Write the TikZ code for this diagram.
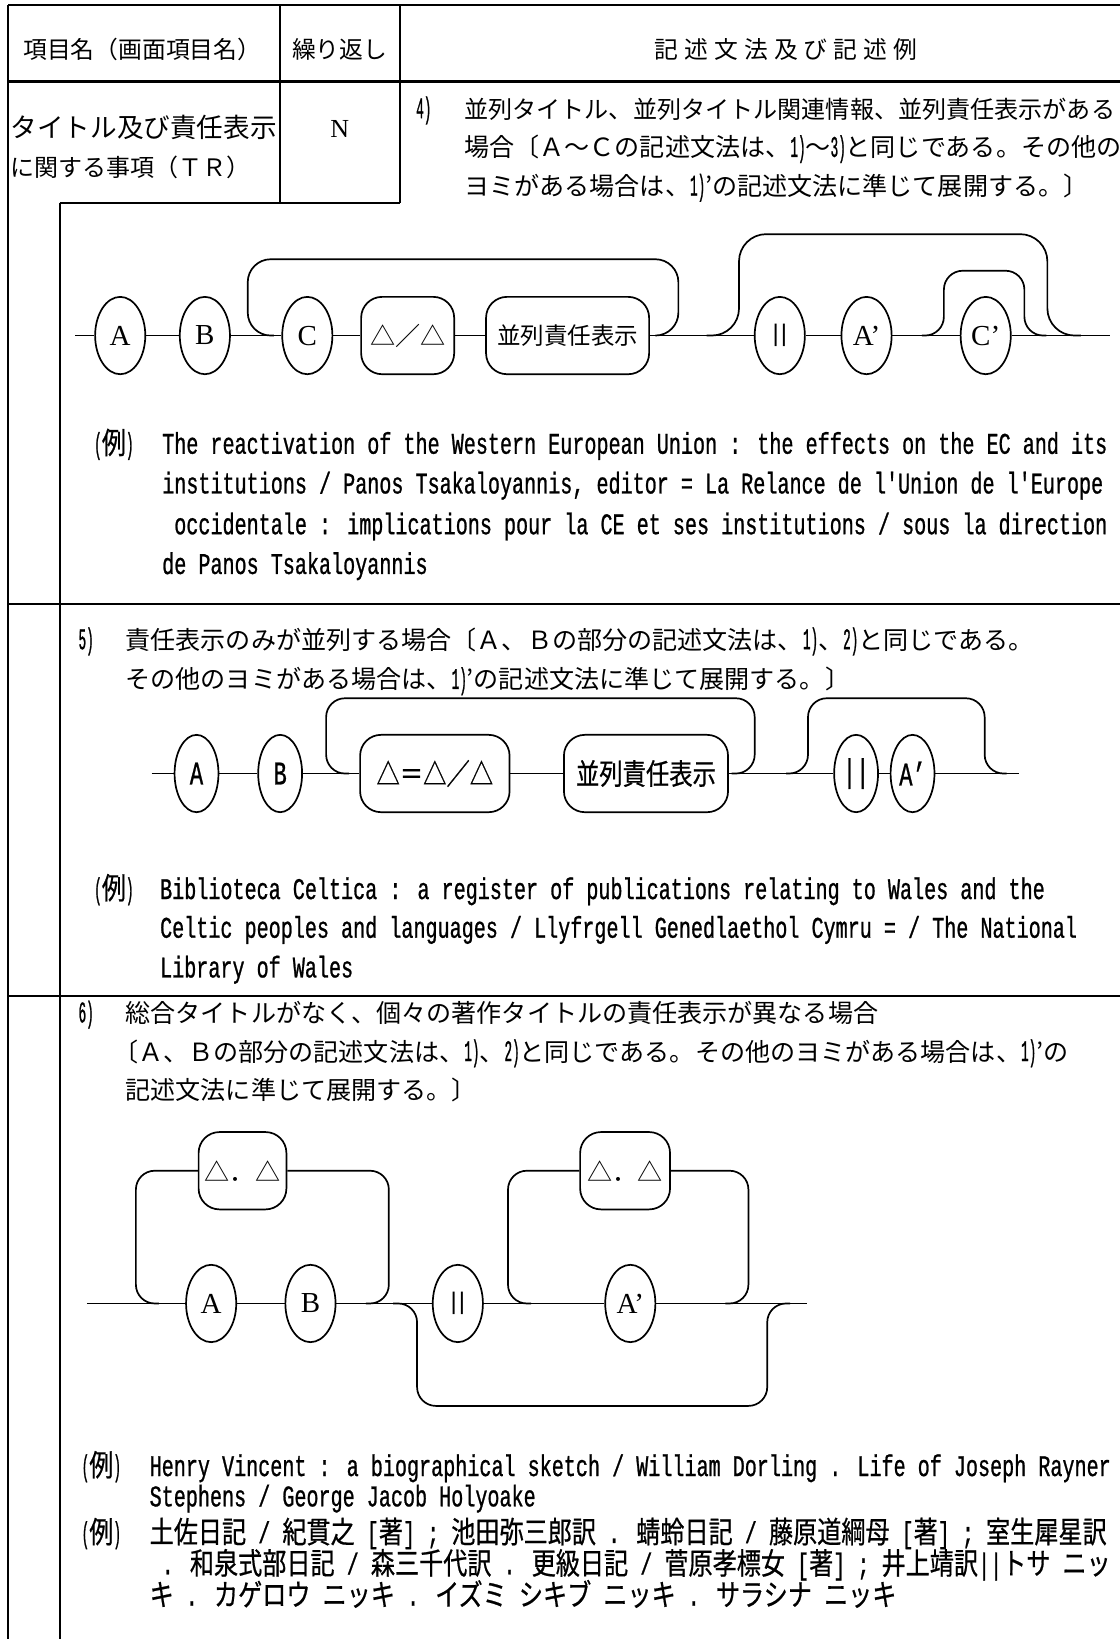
\documentclass[tikz,border=0pt]{standalone}
\usepackage{fontspec}
\setmainfont{Liberation Serif}
\setsansfont{Liberation Sans}
\newfontfamily\jp{Noto Sans CJK JP}
\newfontfamily\jpc[FakeStretch=0.804,FakeBold=0.6]{Noto Sans CJK JP}
\newfontfamily\exf[FakeStretch=0.67,FakeBold=0.8]{Liberation Mono}
\newfontfamily\exn[FakeStretch=0.42,FakeBold=0.8]{Liberation Mono}
\usetikzlibrary{shapes.geometric}
\def\U{1.045pt}
\newcommand\fb{\jp\fontsize{25.08pt}{30pt}\selectfont}
\newcommand\fh{\jp\fontsize{23.8pt}{28pt}\selectfont}
\newcommand\fx{\exf\fontsize{30pt}{34pt}\selectfont}
\newcommand\nm[1]{{\exn\fontsize{30pt}{32pt}\selectfont #1}}
\newcommand\jx[1]{{\jpc #1}}
\newcommand\rei{{\exn(}\jx{例}{\exn)}}
\newcommand\ks{\kern6pt}
\newcommand\fser{\fontsize{29pt}{32pt}\selectfont}
\newcommand\fbar{\sffamily\fontsize{24pt}{28pt}\selectfont |\kern2pt|}
\newcommand\fcd{\exf\fontsize{33pt}{36pt}\selectfont}
\tikzset{
  tbl/.style={line width=2pt},
  ln/.style={line width=1.7pt},
  oval/.style={draw, ellipse, line width=1.7pt, fill=white, inner sep=0pt, minimum width=48*\U, minimum height=74*\U},
  ovaln/.style={oval, minimum width=42*\U},
  rbox/.style={draw, rectangle, rounded corners=20*\U, line width=1.7pt, fill=white, inner sep=0pt, minimum height=74*\U},
  txt/.style={anchor=west, inner sep=0pt, text height=19pt, text depth=0pt},
  ctxt/.style={inner sep=0pt, text height=19pt, text depth=0pt},
  loopr/.style={ln, rounded corners=22*\U},
}
\begin{document}
\begin{tikzpicture}[x=1.045pt, y=-1.045pt]
\fill[white] (0,0) rectangle (1071,1568);
\useasboundingbox (0,0) rectangle (1071,1568);
% ---------- table frame ----------
\draw[tbl] (8,5) -- (1071,5);
\draw[tbl] (8,5) -- (8,1568);
\draw[line width=2.6pt] (8,78) -- (1071,78);
\draw[tbl] (268,5) -- (268,194);
\draw[tbl] (383,5) -- (383,194);
\draw[tbl] (57,194) -- (383,194);
\draw[tbl] (57,194) -- (57,1568);
\draw[tbl] (8,578) -- (1071,578);
\draw[tbl] (8,953) -- (1071,953);
% ---------- header ----------
\node[txt] (h1) at (22,47) {\fh 項目名（画面項目名）};
\node[ctxt] (h2) at (325,47) {\fh 繰り返し};
\node[ctxt] (h3) at (752,47) {\fh 記\ks 述\ks 文\ks 法\ks 及\ks び\ks 記\ks 述\ks 例};
% ---------- row 2 ----------
\node[txt] (c1a) at (10,122) {\jp\fontsize{26.6pt}{30pt}\selectfont タイトル及び責任表示};
\node[txt] (c1b) at (10,160) {\jp\fontsize{24pt}{28pt}\selectfont に関する事項（ＴＲ）};
\node[ctxt] (rep) at (325,122) {\fontsize{26pt}{30pt}\selectfont N};
% ---------- section 4 ----------
\node[txt] (s4n) at (398,104) {\nm{4)}};
\node[txt] (s4a) at (444,104) {\jp\fontsize{24.1pt}{30pt}\selectfont 並列タイトル、並列タイトル関連情報、並列責任表示がある};
\node[txt] (s4b) at (444,141) {\fb 場合〔Ａ～Ｃの記述文法は、\nm{1)}～\nm{3)}と同じである。その他の};
\node[txt] (s4c) at (444,178) {\fb ヨミがある場合は、\nm{1)}’の記述文法に準じて展開する。〕};
% diagram 1
\coordinate (d1s) at (72,321);
\node[oval] (d1A) at (115,321) {\fser A};
\node[oval] (d1B) at (196,321) {\fser B};
\node[oval] (d1C) at (294,321) {\fser C};
\node[rbox, minimum width=89*\U] (d1D) at (390,321) {\fb △／△};
\node[rbox, minimum width=156*\U] (d1P) at (543,321) {\jp\fontsize{23.5pt}{26pt}\selectfont 並列責任表示};
\node[oval] (d1K) at (746,321) {\fbar};
\node[oval] (d1Ap) at (829,321) {\fser A’};
\node[oval] (d1Cp) at (943,321) {\fser C’};
\coordinate (d1e) at (1062,321);
\draw[ln] (d1s) -- (d1A) -- (d1B) -- (d1C) -- (d1D) -- (d1P) -- (d1K) -- (d1Ap) -- (d1Cp) -- (d1e);
\draw[loopr] (262,321) -- (237,321) -- (237,248) -- (649,248) -- (649,321) -- (628,321);
\draw[loopr, rounded corners=26*\U] (676,321) -- (707,321) -- (707,224) -- (1002,224) -- (1002,321) -- (1034,321);
\draw[loopr, rounded corners=18*\U] (882,321) -- (903,321) -- (903,259) -- (980,259) -- (980,321) -- (1001,321);
% example 1
\node[txt] (e1m) at (90,425) {\fx\rei};
\node[txt] (e1a) at (155,425) {\fx The reactivation of the Western European Union : the effects on the EC and its};
\node[txt] (e1b) at (155,463) {\fx institutions / Panos Tsakaloyannis, editor = La Relance de l'Union de l'Europe};
\node[txt] (e1c) at (155,502) {\fx\ occidentale : implications pour la CE et ses institutions / sous la direction};
\node[txt] (e1d) at (155,540) {\fx de Panos Tsakaloyannis};
% ---------- section 5 ----------
\node[txt] (s5n) at (75,612) {\nm{5)}};
\node[txt] (s5a) at (120,612) {\fb 責任表示のみが並列する場合〔Ａ、Ｂの部分の記述文法は、\nm{1)}、\nm{2)}と同じである。};
\node[txt] (s5b) at (120,650) {\fb その他のヨミがある場合は、\nm{1)}’の記述文法に準じて展開する。〕};
% diagram 2
\coordinate (d2s) at (145,740);
\node[ovaln] (d2A) at (188,740) {\fcd A};
\node[ovaln] (d2B) at (268,740) {\fcd B};
\node[rbox, minimum width=143*\U] (d2D) at (416,740) {\jpc\fontsize{29pt}{32pt}\selectfont △＝△／△};
\node[rbox, minimum width=157*\U] (d2P) at (618,740) {\jpc\fontsize{29pt}{32pt}\selectfont 並列責任表示};
\node[ovaln] (d2K) at (819,740) {\fcd ||};
\node[ovaln] (d2Ap) at (873,740) {\fcd A’};
\coordinate (d2e) at (975,740);
\draw[ln] (d2s) -- (d2A) -- (d2B) -- (d2D) -- (d2P) -- (d2K) -- (d2Ap) -- (d2e);
\draw[loopr, rounded corners=18*\U] (334,740) -- (312,740) -- (312,668) -- (722,668) -- (722,740) -- (700,740);
\draw[loopr, rounded corners=18*\U] (752,740) -- (773,740) -- (773,668) -- (942,668) -- (942,740) -- (963,740);
% example 2
\node[txt] (e2m) at (90,851) {\fx\rei};
\node[txt] (e2a) at (153,851) {\fx Biblioteca Celtica : a register of publications relating to Wales and the};
\node[txt] (e2b) at (153,888) {\fx Celtic peoples and languages / Llyfrgell Genedlaethol Cymru = / The National};
\node[txt] (e2c) at (153,926) {\fx Library of Wales};
% ---------- section 6 ----------
\node[txt] (s6n) at (75,969) {\nm{6)}};
\node[txt] (s6a) at (120,969) {\fb 総合タイトルがなく、個々の著作タイトルの責任表示が異なる場合};
\node[txt] (s6b) at (108,1006) {\fb 〔Ａ、Ｂの部分の記述文法は、\nm{1)}、\nm{2)}と同じである。その他のヨミがある場合は、\nm{1)}’の};
\node[txt] (s6c) at (120,1043) {\fb 記述文法に準じて展開する。〕};
% diagram 3
\coordinate (d3s) at (83,1247);
\node[oval] (d3A) at (202,1247) {\fser A};
\node[oval] (d3B) at (297,1247) {\fser B};
\node[oval] (d3K) at (438,1247) {\fbar};
\node[oval] (d3Ap) at (603,1247) {\fser A’};
\coordinate (d3e) at (772,1247);
\node[rbox, minimum width=84*\U] (d3L) at (232,1120) {\fb △．△};
\node[rbox, minimum width=86*\U] (d3R) at (598,1120) {\fb △．△};
\draw[ln] (d3s) -- (d3A) -- (d3B) -- (d3K) -- (d3Ap) -- (d3e);
\draw[loopr, rounded corners=18*\U] (152,1247) -- (130,1247) -- (130,1120) -- (d3L.west);
\draw[loopr, rounded corners=18*\U] (d3L.east) -- (372,1120) -- (372,1247) -- (350,1247);
\draw[loopr, rounded corners=18*\U] (376,1247) -- (399,1247) -- (399,1345) -- (734,1345) -- (734,1247) -- (756,1247);
\draw[loopr, rounded corners=18*\U] (508,1247) -- (486,1247) -- (486,1120) -- (d3R.west);
\draw[loopr, rounded corners=18*\U] (d3R.east) -- (716,1120) -- (716,1247) -- (694,1247);
% example 3
\node[txt] (e3m) at (78,1403) {\fx\rei};
\node[txt] (e3a) at (143,1403) {\fx Henry Vincent : a biographical sketch / William Dorling . Life of Joseph Rayner};
\node[txt] (e3b) at (143,1432) {\fx Stephens / George Jacob Holyoake};
\node[txt] (e4m) at (78,1467) {\fx\rei};
\node[txt] (e4a) at (143,1467) {\fx \jx{土佐日記} / \jx{紀貫之} [\jx{著}] ; \jx{池田弥三郎訳} . \jx{蜻蛉日記} / \jx{藤原道綱母} [\jx{著}] ; \jx{室生犀星訳}};
\node[txt] (e4b) at (143,1497) {\fx\ . \jx{和泉式部日記} / \jx{森三千代訳} . \jx{更級日記} / \jx{菅原孝標女} [\jx{著}] ; \jx{井上靖訳}||\jx{トサ} \jx{ニッ}};
\node[txt] (e4c) at (143,1527) {\fx \jx{キ} . \jx{カゲロウ} \jx{ニッキ} . \jx{イズミ} \jx{シキブ} \jx{ニッキ} . \jx{サラシナ} \jx{ニッキ}};
\end{tikzpicture}
\end{document}
